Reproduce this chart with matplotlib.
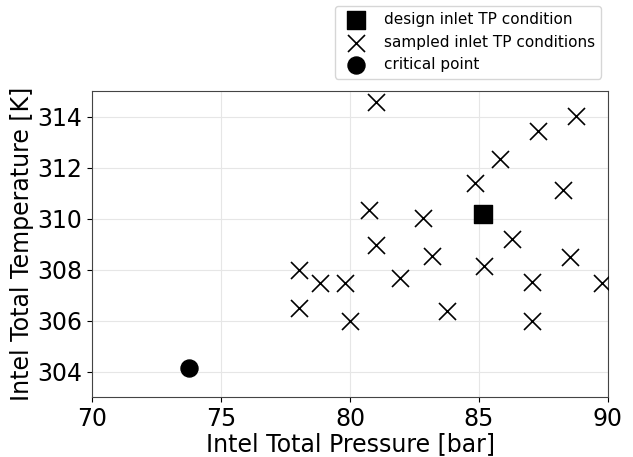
import matplotlib
matplotlib.use("Agg")
import matplotlib.pyplot as plt

# Sampled inlet total pressure [bar] and temperature [K]
sampled_p = [81.0, 80.74, 81.0, 78.02, 78.84, 79.8, 78.02, 80.0,
             88.75, 87.3, 85.81, 84.86, 88.27, 82.84, 86.29, 83.19,
             88.53, 85.2, 81.94, 87.04, 89.76, 83.75, 87.04]
sampled_t = [314.56, 310.35, 308.98, 307.98, 307.48, 307.48, 306.48, 305.98,
             314.03, 313.45, 312.32, 311.4, 311.12, 310.02, 309.2, 308.52,
             308.5, 308.15, 307.67, 307.5, 307.48, 306.36, 306.0]

design_p = [85.17]
design_t = [310.17]

critical_p = [73.77]
critical_t = [304.13]

fig = plt.figure(figsize=(6.33, 4.57), dpi=100)
ax = fig.add_axes([92/633, 1-397/457, 516/633, 306/457])

h1 = ax.scatter(design_p, design_t, marker='s', s=150, color='black', zorder=3,
                label='design inlet TP condition')
h2 = ax.scatter(sampled_p, sampled_t, marker='x', s=150, color='black', linewidths=1.2,
                zorder=3, label='sampled inlet TP conditions')
h3 = ax.scatter(critical_p, critical_t, marker='o', s=150, color='black', zorder=3,
                label='critical point')

ax.set_xlim(70, 90)
ax.set_ylim(303, 315)
ax.set_xticks([70, 75, 80, 85, 90])
ax.set_yticks([304, 306, 308, 310, 312, 314])
ax.tick_params(labelsize=17)
ax.grid(True, color='#e6e6e6', linewidth=0.8)
ax.set_axisbelow(True)
for s in ax.spines.values():
    s.set_color('#444444')
ax.set_xlabel('Intel Total Pressure [bar]', fontsize=17, labelpad=1)
ax.set_ylabel('Intel Total Temperature [K]', fontsize=17, labelpad=2)

ax.legend(handles=[h1, h2, h3], loc='upper right',
          bbox_to_anchor=(601/633, 1-6/457), bbox_transform=fig.transFigure,
          borderaxespad=0, fontsize=11, handletextpad=0.8)

fig.savefig('out.png', dpi=100)
